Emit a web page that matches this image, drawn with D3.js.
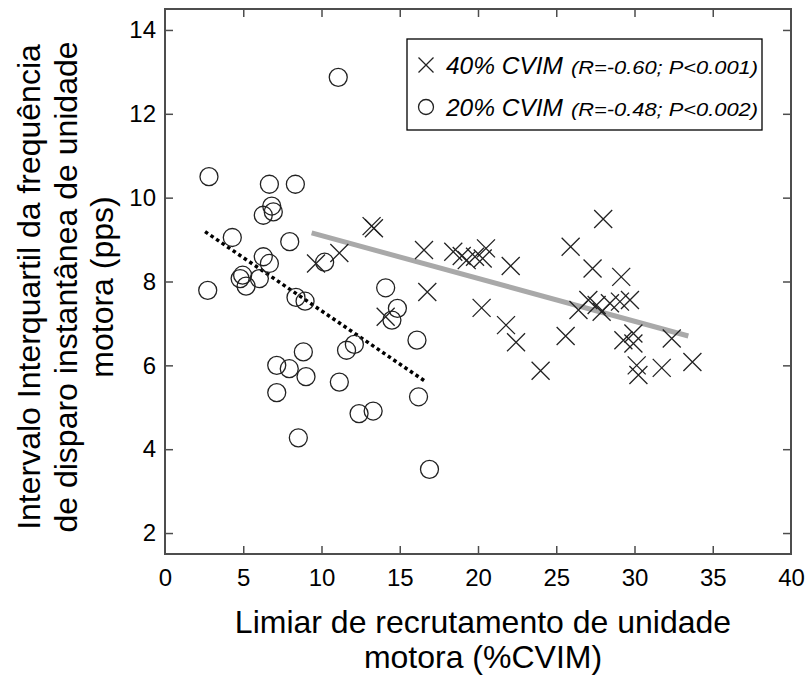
<!DOCTYPE html>
<html>
<head>
<meta charset="utf-8">
<script src="https://cdn.jsdelivr.net/npm/d3@7"></script>
<style>
  body { margin: 0; background: #fff; }
  text { font-family: Arial, "Liberation Sans", sans-serif; fill: #000; }
</style>
</head>
<body>
<div id="chart"></div>
<script>
// 40% CVIM: recruitment threshold (%CVIM) and IQR of firing rate (pps)
const recruit40 = [9.65, 11.14, 13.2, 13.35, 14.1, 16.55, 16.76, 18.42, 18.96, 19.28, 19.81, 20.3, 20.51, 20.23,
    21.79, 22.09, 22.43, 24.0, 25.6, 25.92, 26.42, 27.05, 27.32, 27.58, 27.9, 28.0, 28.43, 29.07, 29.15,
    29.29, 29.71, 29.93, 29.93, 30.14, 30.25, 31.74, 32.38, 33.7];
const iqr40 = [8.43, 8.68, 9.32, 9.27, 7.16, 8.75, 7.75, 8.71, 8.61, 8.51, 8.59, 8.55, 8.79, 7.37,
    6.96, 8.37, 6.55, 5.87, 6.7, 8.83, 7.32, 7.56, 8.31, 7.44, 7.28, 9.49, 7.48, 7.52, 8.11,
    6.6, 7.56, 6.76, 6.52, 6.0, 5.77, 5.94, 6.64, 6.08];

// 20% CVIM
const recruit20 = [2.73, 2.81, 4.3, 4.8, 4.96, 5.18, 6.03, 6.28, 6.67, 6.28, 6.82, 6.92, 6.67, 8.33, 7.97,
    8.37, 8.95, 8.84, 7.14, 7.94, 9.01, 7.14, 8.52, 10.2, 11.07, 11.14, 11.6, 12.1, 12.4, 13.3, 14.1,
    14.85, 14.5, 16.1, 16.2, 16.9];
const iqr20 = [7.79, 10.5, 9.05, 8.07, 8.15, 7.89, 8.07, 8.59, 8.43, 9.58, 9.8, 9.66, 10.32, 10.32, 8.95,
    7.62, 7.53, 6.32, 6.0, 5.92, 5.73, 5.35, 4.27, 8.46, 12.87, 5.6, 6.36, 6.5, 4.85, 4.91, 7.85,
    7.36, 7.08, 6.6, 5.25, 3.52];

// regression lines (end points)
const fit40 = [[9.37, 9.16], [33.44, 6.7]];
const fit20 = [[2.56, 9.19], [16.7, 5.6]];

const xTicks = [0, 5, 10, 15, 20, 25, 30, 35, 40];
const yTicks = [2, 4, 6, 8, 10, 12, 14];

const legend40 = ["40% CVIM", "(R=-0.60; P<0.001)"];
const legend20 = ["20% CVIM", "(R=-0.48; P<0.002)"];

const xLabel = ["Limiar de recrutamento de unidade", "motora (%CVIM)"];
const yLabel = ["Intervalo Interquartil da frequência", "de disparo instantânea de unidade", "motora (pps)"];

const width = 808, height = 677;
const margin = { left: 165, right: 791, top: 9, bottom: 554 };
const frameColor = "#4d4d4d";

const svg = d3.select("#chart").append("svg")
    .attr("width", width)
    .attr("height", height);

const x = d3.scaleLinear().domain([0, 40]).range([margin.left, margin.right]);
const y = d3.scaleLinear().domain([1.5, 14.5]).range([margin.bottom, margin.top]);

// axes with inward ticks
const gx = svg.append("g")
    .attr("transform", `translate(0,${margin.bottom})`)
    .call(d3.axisBottom(x).tickValues(xTicks).tickSize(-8).tickPadding(15).tickFormat(d3.format("d")));
const gy = svg.append("g")
    .attr("transform", `translate(${margin.left},0)`)
    .call(d3.axisLeft(y).tickValues(yTicks).tickSize(-8).tickPadding(9).tickFormat(d3.format("d")));
const gt = svg.append("g")
    .attr("transform", `translate(0,${margin.top})`)
    .call(d3.axisTop(x).tickValues(xTicks.slice(1, -1)).tickSize(-8).tickFormat(""));
const gr = svg.append("g")
    .attr("transform", `translate(${margin.right},0)`)
    .call(d3.axisRight(y).tickValues(yTicks).tickSize(-8).tickFormat(""));

[gx, gy, gt, gr].forEach(g => {
    g.select(".domain").remove();
    g.selectAll(".tick line").attr("stroke", frameColor).attr("stroke-width", 1.5);
    g.selectAll("text").attr("font-size", 24).attr("fill", "#000")
        .style("font-family", 'Arial, "Liberation Sans", sans-serif');
});
gx.selectAll(".tick").filter(d => d === 0 || d === 40).select("line").remove();

// frame
svg.append("rect")
    .attr("x", margin.left).attr("y", margin.top)
    .attr("width", margin.right - margin.left).attr("height", margin.bottom - margin.top)
    .attr("fill", "none")
    .attr("stroke", frameColor)
    .attr("stroke-width", 2);

// regression lines
const line = d3.line().x(d => x(d[0])).y(d => y(d[1]));
svg.append("path")
    .datum(fit40)
    .attr("d", line)
    .attr("stroke", "#a9a9a9")
    .attr("stroke-width", 5)
    .attr("fill", "none");
svg.append("path")
    .datum(fit20)
    .attr("d", line)
    .attr("stroke", "#000")
    .attr("stroke-width", 3.5)
    .attr("stroke-dasharray", "3.5 3.2")
    .attr("fill", "none");

// markers
const crossPath = s => `M${-s},${-s}L${s},${s}M${-s},${s}L${s},${-s}`;
svg.append("g")
    .selectAll("path")
    .data(d3.zip(recruit40, iqr40))
    .enter().append("path")
    .attr("transform", d => `translate(${x(d[0])},${y(d[1])})`)
    .attr("d", crossPath(9))
    .attr("stroke", "#222")
    .attr("stroke-width", 1.3)
    .attr("fill", "none");

svg.append("g")
    .selectAll("circle")
    .data(d3.zip(recruit20, iqr20))
    .enter().append("circle")
    .attr("cx", d => x(d[0]))
    .attr("cy", d => y(d[1]))
    .attr("r", 9)
    .attr("stroke", "#222")
    .attr("stroke-width", 1.3)
    .attr("fill", "none");

// legend
const lg = svg.append("g");
lg.append("rect")
    .attr("x", 407).attr("y", 39)
    .attr("width", 355).attr("height", 91)
    .attr("fill", "#fff")
    .attr("stroke", "#000")
    .attr("stroke-width", 1.3);

lg.append("path")
    .attr("transform", "translate(426,65)")
    .attr("d", crossPath(7.5))
    .attr("stroke", "#222").attr("stroke-width", 1.3);
lg.append("circle")
    .attr("cx", 426).attr("cy", 107).attr("r", 7.5)
    .attr("stroke", "#222").attr("stroke-width", 1.3).attr("fill", "none");

[[legend40, 74], [legend20, 116]].forEach(([lab, by]) => {
    lg.append("text")
        .attr("x", 446).attr("y", by)
        .attr("font-size", 23).attr("font-style", "italic")
        .attr("textLength", 117).attr("lengthAdjust", "spacingAndGlyphs")
        .text(lab[0]);
    lg.append("text")
        .attr("x", 571).attr("y", by)
        .attr("font-size", 19).attr("font-style", "italic")
        .attr("textLength", 187).attr("lengthAdjust", "spacingAndGlyphs")
        .text(lab[1]);
});

// axis titles
svg.append("text")
    .attr("text-anchor", "middle")
    .attr("font-size", 32)
    .selectAll("tspan")
    .data(xLabel)
    .enter().append("tspan")
    .attr("x", 483)
    .attr("y", (d, i) => 633 + i * 35)
    .text(d => d);

svg.append("text")
    .attr("text-anchor", "middle")
    .attr("font-size", 32)
    .attr("transform", "translate(0,287) rotate(-90)")
    .selectAll("tspan")
    .data(yLabel)
    .enter().append("tspan")
    .attr("x", 0)
    .attr("y", (d, i) => 40 + i * 36.5)
    .text(d => d);
</script>
</body>
</html>
